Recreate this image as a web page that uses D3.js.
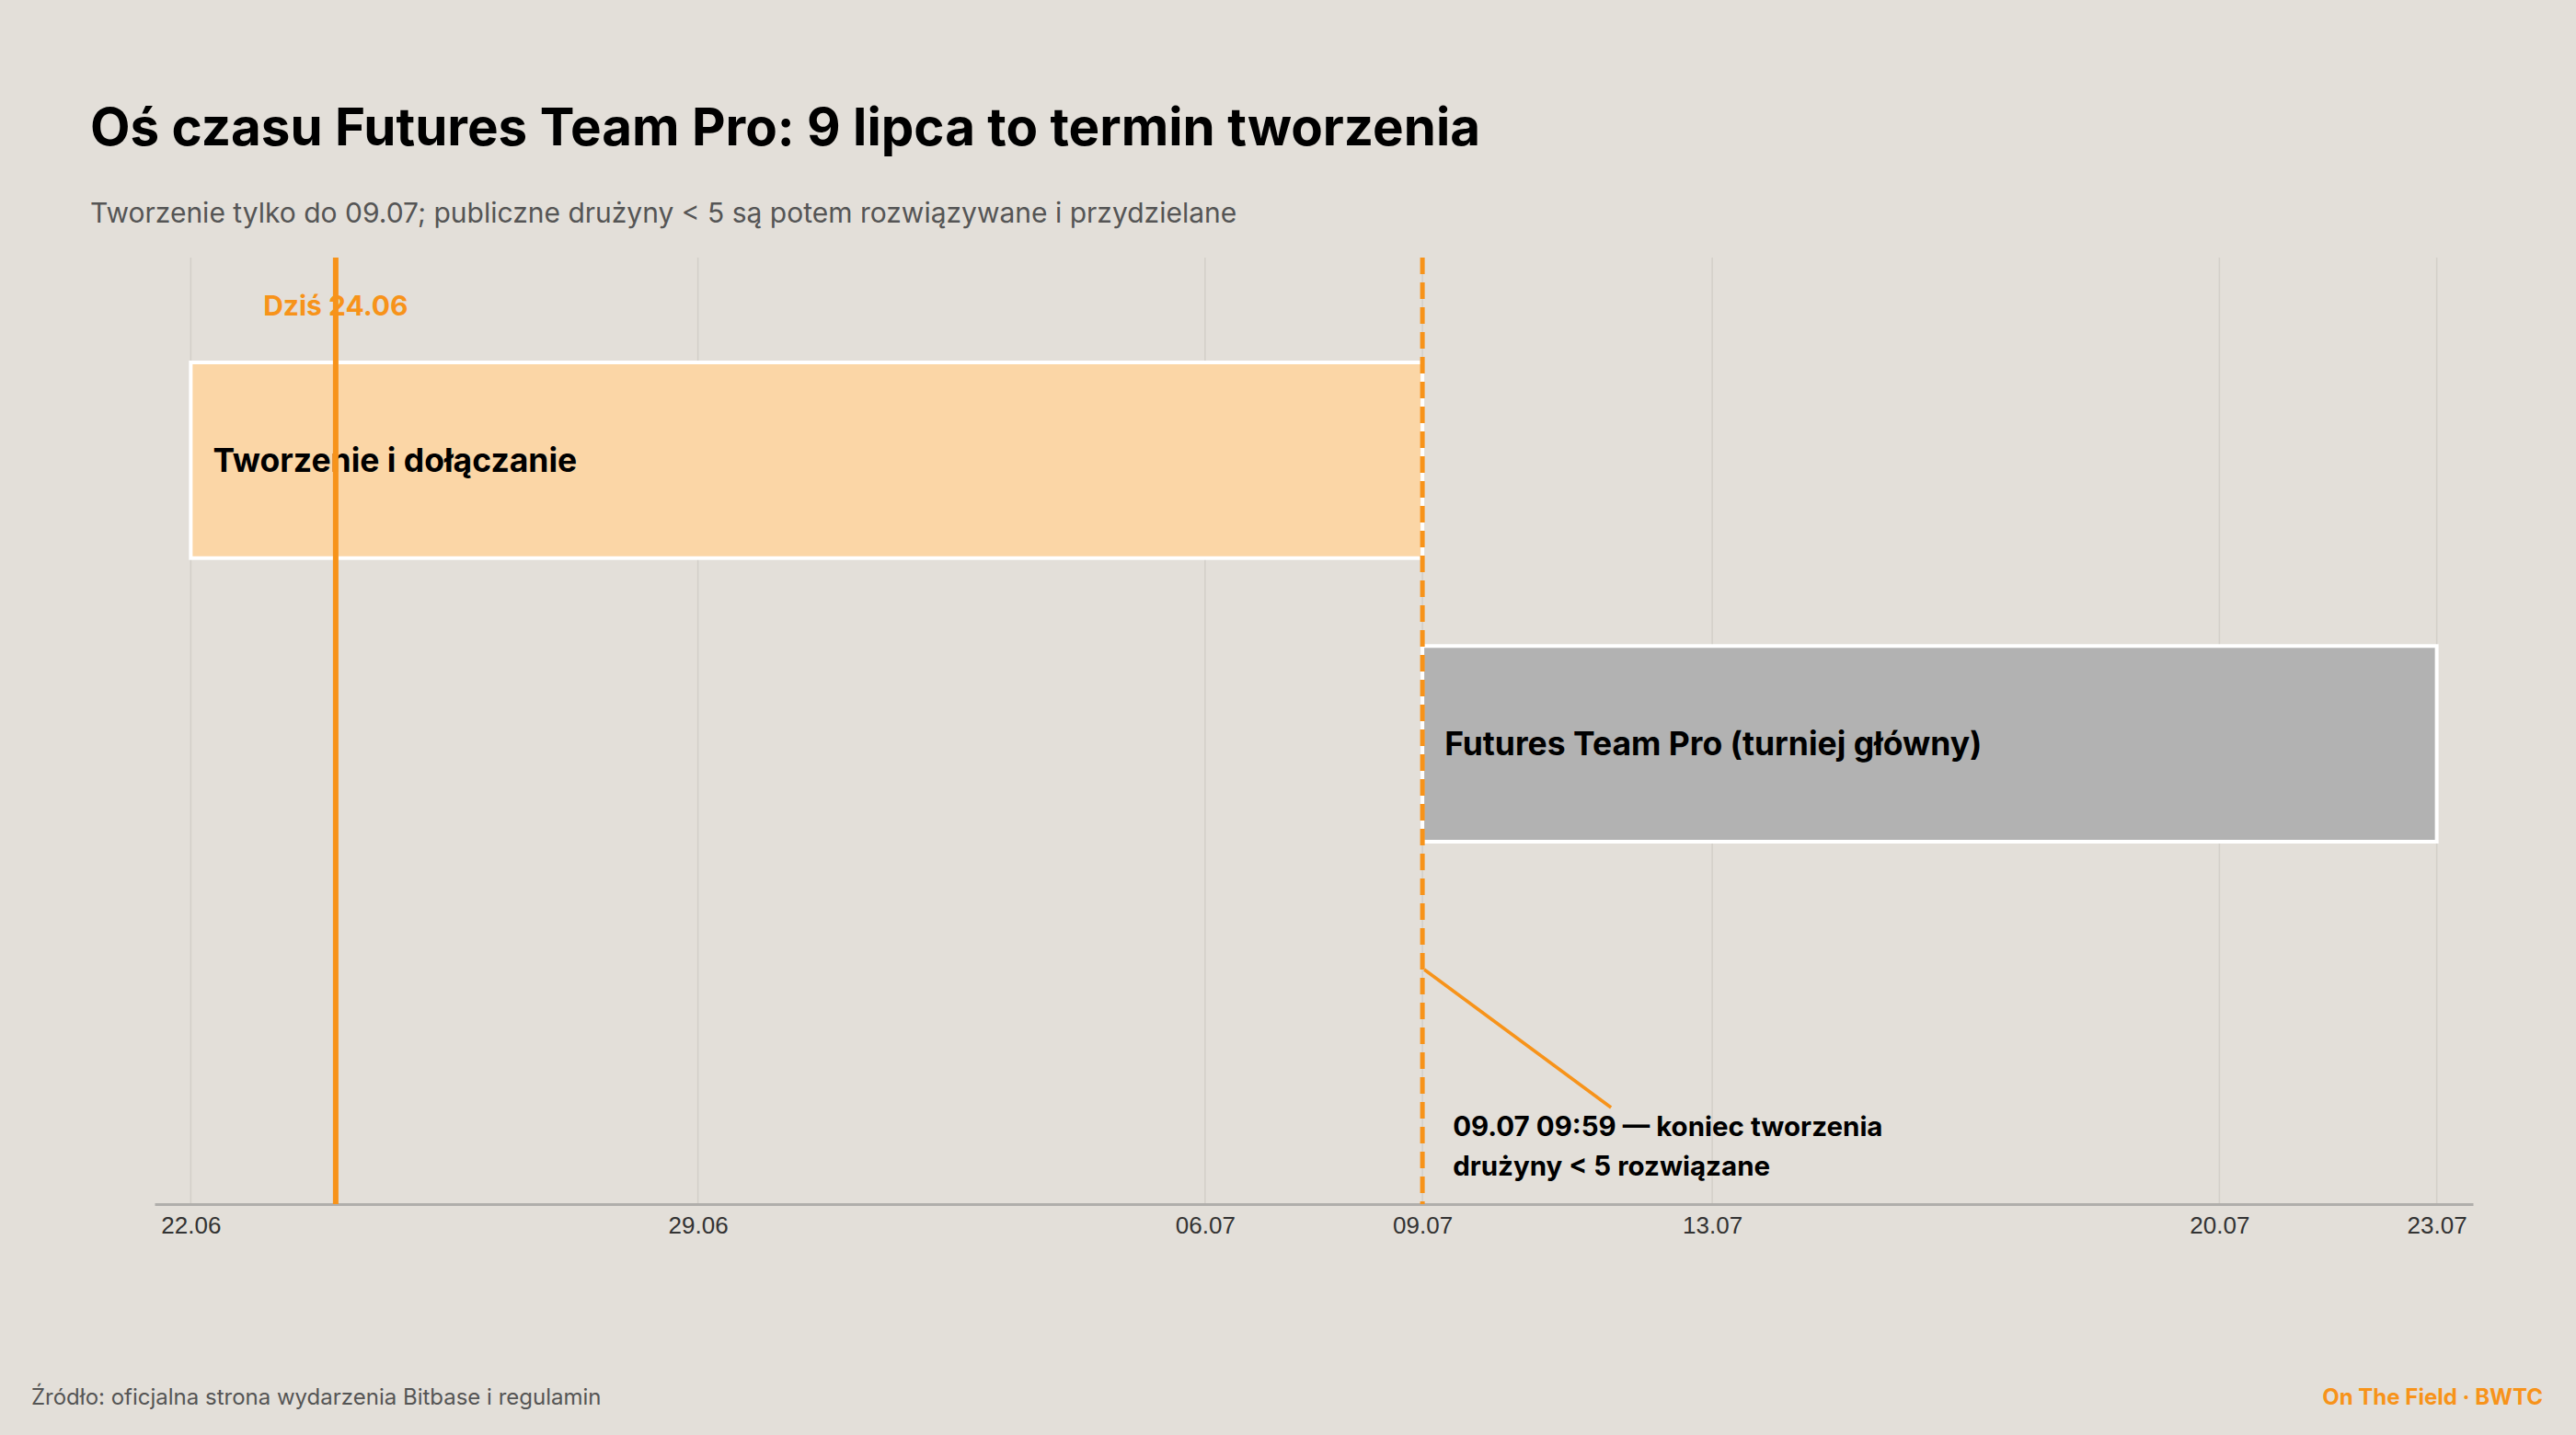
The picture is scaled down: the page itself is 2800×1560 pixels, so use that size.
<!DOCTYPE html>
<html>
<head>
<meta charset="utf-8">
<script src="https://cdn.jsdelivr.net/npm/d3@7"></script>
<style>
  html, body { margin: 0; padding: 0; background: #e3dfd9; }
  svg { display: block; }
</style>
</head>
<body>
<script>
// dane osi czasu
const phases = ["Tworzenie i dołączanie", "Futures Team Pro (turniej główny)"];
const phaseStart = ["2025-06-22", "2025-07-09"];
const phaseEnd = ["2025-07-09", "2025-07-23"];
const phaseColor = ["#fbd6a6", "#b2b2b2"];
const tickDates = ["2025-06-22", "2025-06-29", "2025-07-06", "2025-07-09", "2025-07-13", "2025-07-20", "2025-07-23"];
const todayDate = "2025-06-24";
const deadlineDate = "2025-07-09";
const todayLabel = "Dziś 24.06";
const noteLines = ["09.07 09:59 — koniec tworzenia", "drużyny < 5 rozwiązane"];

const width = 2800, height = 1560;
const orange = "#f7931a";
const font = "Inter, 'Open Sans', sans-serif";
const parse = d3.utcParse("%Y-%m-%d");
const fmt = d3.utcFormat("%d.%m");

const svg = d3.select("body").append("svg")
    .attr("width", width)
    .attr("height", height)
    .style("background", "#e3dfd9");

// skala x: dni z pół dnia zapasu po obu stronach
const x = d3.scaleUtc()
    .domain([d3.utcHour.offset(parse(tickDates[0]), -12), d3.utcHour.offset(parse(tickDates[tickDates.length - 1]), 12)])
    .range([168, 2688]);

const y = d3.scaleBand()
    .domain(phases)
    .range([394, 915])
    .paddingInner(0.31);

const plotTop = 280, axisY = 1309;

// siatka pionowa
svg.append("g")
    .selectAll("line")
    .data(tickDates)
    .join("line")
      .attr("x1", d => x(parse(d)))
      .attr("x2", d => x(parse(d)))
      .attr("y1", plotTop)
      .attr("y2", axisY)
      .attr("stroke", "#d3cfc9")
      .attr("stroke-width", 1.5);

// os X
const xAxis = g => g
    .attr("transform", `translate(0,${axisY})`)
    .call(d3.axisBottom(x).tickValues(tickDates.map(parse)).tickFormat(fmt).tickSize(0).tickPadding(14))
    .call(g => g.select(".domain").attr("stroke", "#b0aeab").attr("stroke-width", 3))
    .call(g => g.selectAll("text")
        .attr("font-family", "'Liberation Sans', Arial, sans-serif")
        .attr("font-size", 26)
        .attr("fill", "#333"));

svg.append("g").call(xAxis);

// paski faz
const bars = svg.append("g")
    .selectAll("g")
    .data(phases)
    .join("g");

bars.append("rect")
    .attr("x", (d, i) => x(parse(phaseStart[i])))
    .attr("y", d => y(d))
    .attr("width", (d, i) => x(parse(phaseEnd[i])) - x(parse(phaseStart[i])))
    .attr("height", y.bandwidth())
    .attr("fill", (d, i) => phaseColor[i])
    .attr("stroke", "#fff")
    .attr("stroke-width", 4);

bars.append("text")
    .attr("x", (d, i) => x(parse(phaseStart[i])) + 24)
    .attr("y", d => y(d) + y.bandwidth() / 2)
    .attr("dy", "0.35em")
    .attr("font-family", font)
    .attr("font-weight", 700)
    .attr("font-size", 35.5)
    .attr("fill", "#000")
    .text(d => d);

// linia "dziś"
svg.append("line")
    .attr("x1", x(parse(todayDate)))
    .attr("x2", x(parse(todayDate)))
    .attr("y1", plotTop)
    .attr("y2", axisY)
    .attr("stroke", orange)
    .attr("stroke-width", 6);

svg.append("text")
    .attr("x", x(parse(todayDate)))
    .attr("y", 343)
    .attr("text-anchor", "middle")
    .attr("font-family", font)
    .attr("font-weight", 700)
    .attr("font-size", 30)
    .attr("fill", orange)
    .text(todayLabel);

// termin tworzenia - linia przerywana
const xd = x(parse(deadlineDate));
svg.append("line")
    .attr("x1", xd)
    .attr("x2", xd)
    .attr("y1", plotTop)
    .attr("y2", axisY)
    .attr("stroke", orange)
    .attr("stroke-width", 5)
    .attr("stroke-dasharray", "18 9");

// odnośnik do adnotacji
svg.append("line")
    .attr("x1", xd + 2)
    .attr("y1", 1054)
    .attr("x2", xd + 205)
    .attr("y2", 1204)
    .attr("stroke", orange)
    .attr("stroke-width", 3.5);

svg.append("text")
    .attr("font-family", font)
    .attr("font-weight", 700)
    .attr("font-size", 29.5)
    .attr("fill", "#000")
    .selectAll("tspan")
    .data(noteLines)
    .join("tspan")
      .attr("x", xd + 33)
      .attr("y", (d, i) => 1235 + i * 43)
      .text(d => d);

// tytul i podtytul
svg.append("text")
    .attr("x", 98)
    .attr("y", 158)
    .attr("font-family", font)
    .attr("font-weight", 700)
    .attr("font-size", 56.5)
    .attr("fill", "#000")
    .text("Oś czasu Futures Team Pro: 9 lipca to termin tworzenia");

svg.append("text")
    .attr("x", 98)
    .attr("y", 242)
    .attr("font-family", font)
    .attr("font-size", 30)
    .attr("fill", "#555")
    .text("Tworzenie tylko do 09.07; publiczne drużyny < 5 są potem rozwiązywane i przydzielane");

// stopka
svg.append("text")
    .attr("x", 34)
    .attr("y", 1527)
    .attr("font-family", font)
    .attr("font-size", 24)
    .attr("fill", "#555")
    .text("Źródło: oficjalna strona wydarzenia Bitbase i regulamin");

svg.append("text")
    .attr("x", 2764)
    .attr("y", 1527)
    .attr("text-anchor", "end")
    .attr("font-family", font)
    .attr("font-weight", 700)
    .attr("font-size", 24)
    .attr("fill", orange)
    .text("On The Field · BWTC");
</script>
</body>
</html>
